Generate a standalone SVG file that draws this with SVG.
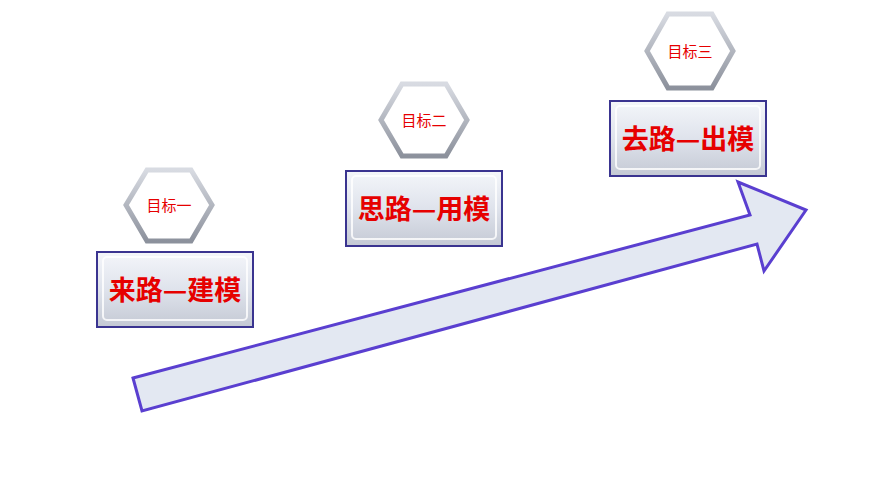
<svg xmlns="http://www.w3.org/2000/svg" width="870" height="489" viewBox="0 0 870 489">
<defs>
<linearGradient id="bx" x1="0" y1="0" x2="0" y2="1"><stop offset="0" stop-color="#f4f6fa"/><stop offset="0.5" stop-color="#dfe3ec"/><stop offset="1" stop-color="#c4c9d4"/></linearGradient>
<linearGradient id="hx" x1="0" y1="0" x2="0" y2="1"><stop offset="0" stop-color="#d8dbe2"/><stop offset="1" stop-color="#8c919c"/></linearGradient>
</defs>
<style>
.box{fill:url(#bx);stroke:#3a3490;stroke-width:2}
.inner{fill:none;stroke:#ffffff;stroke-width:2;opacity:.8}
.hex{fill:#ffffff;stroke:url(#hx);stroke-width:5}
.t{font-family:"Noto Sans CJK SC",sans-serif;fill:#e60000;font-weight:bold;text-anchor:middle}
.big{font-size:27px}
.sm{font-size:15px;font-weight:normal}
</style>
<g id="arrow"><polygon points="133,378 750,215 738,182 806,210 764,271 757,244 142,411" fill="#e3e8f2" stroke="#5a3fd0" stroke-width="3"/></g>
<g id="n1"><rect class="box" x="97" y="252" width="156" height="75"/><rect class="inner" x="103" y="257" width="144" height="63" rx="4"/><text class="t big" x="175" y="300">来路—建模</text></g>
<g id="h1"><polygon class="hex" points="147,170 191,170 212,205 191,241 147,241 126,205"/><text class="t sm" x="169" y="211">目标一</text></g>
<g id="n2"><rect class="box" x="346" y="171" width="156" height="75"/><rect class="inner" x="352" y="176" width="144" height="63" rx="4"/><text class="t big" x="424" y="219">思路—用模</text></g>
<g id="h2"><polygon class="hex" points="402,84 446,84 467,120 446,156 402,156 381,120"/><text class="t sm" x="424" y="126">目标二</text></g>
<g id="n3"><rect class="box" x="610" y="101" width="156" height="75"/><rect class="inner" x="616" y="106" width="144" height="63" rx="4"/><text class="t big" x="688" y="149">去路—出模</text></g>
<g id="h3"><polygon class="hex" points="668,14 712,14 733,51 712,88 668,88 647,51"/><text class="t sm" x="690" y="57">目标三</text></g>
</svg>
